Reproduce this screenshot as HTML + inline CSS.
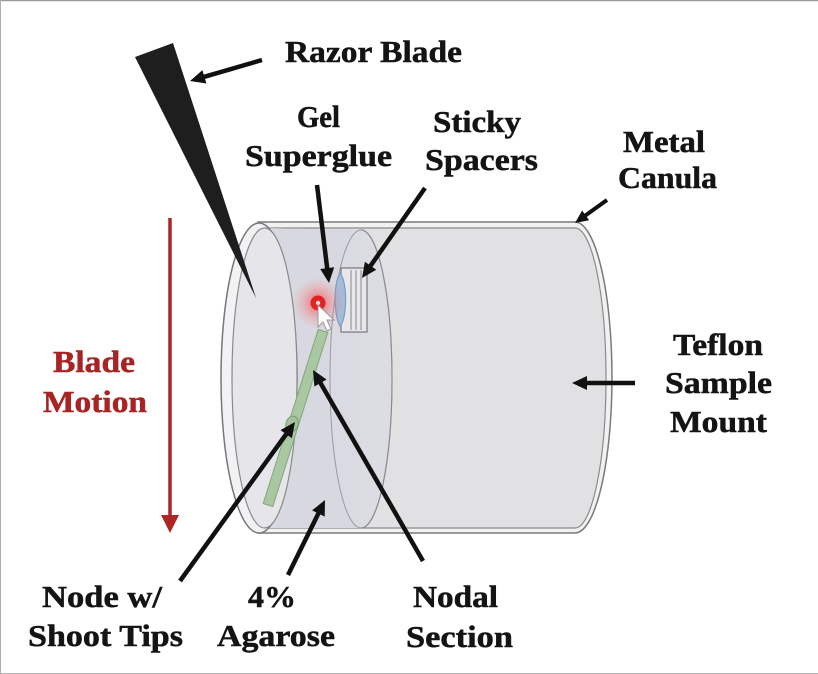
<!DOCTYPE html>
<html><head><meta charset="utf-8"><style>
html,body{margin:0;padding:0;background:#fff;}
svg{display:block;}
text{font-family:"Liberation Serif",serif;font-weight:bold;font-size:31px;fill:#141414;stroke:#141414;stroke-width:0.5px;}
</style></head><body>
<svg width="818" height="674" viewBox="0 0 818 674" xmlns="http://www.w3.org/2000/svg">
<defs>
<radialGradient id="glow" cx="50%" cy="50%" r="50%">
<stop offset="0" stop-color="#ff3030" stop-opacity="0.7"/>
<stop offset="0.5" stop-color="#ff5050" stop-opacity="0.3"/>
<stop offset="1" stop-color="#ff8080" stop-opacity="0"/>
</radialGradient>
</defs>
<rect width="818" height="674" fill="#fff"/>
<line x1="0" y1="0.5" x2="818" y2="0.5" stroke="#9a9a9a" stroke-width="1.5"/>
<line x1="0.5" y1="0" x2="0.5" y2="674" stroke="#b0b0b0" stroke-width="1"/>
<line x1="0" y1="673.5" x2="818" y2="673.5" stroke="#b0b0b0" stroke-width="1"/>

<!-- cylinder body -->
<path d="M258,222 L575,222 A37,155.5 0 0 1 575,533 L258,533 Z" fill="#f1f1f2" stroke="#7a7a7a" stroke-width="1.5"/>
<path d="M258,228 L575,228 A31,150 0 0 1 575,528 L258,528 Z" fill="#e1e1e3" stroke="#8a8a8a" stroke-width="1.2"/>
<!-- darker region between face and section -->
<path d="M262,228 L361,230 A31,149 0 0 0 361,528 L262,528 Z" fill="#d8d8e0"/>
<ellipse cx="361" cy="379" rx="31" ry="149" fill="#dadae2" stroke="#9a9aa2" stroke-width="1"/>
<path d="M361,230 A31,149 0 0 1 361,528" fill="#dcdce3" stroke="#8a8a90" stroke-width="1.2"/>

<!-- front face -->
<ellipse cx="259" cy="378" rx="38" ry="155" fill="#f2f2f4" stroke="#777" stroke-width="1.5"/>
<ellipse cx="264.5" cy="378" rx="32.5" ry="150" fill="#e5e5ea" stroke="#8a8a8a" stroke-width="1.2"/>

<!-- green stem -->
<polygon points="327.8,332.5 318.2,329.5 263.2,503.5 272.8,506.5" fill="#a9c8a2" stroke="#84a57e" stroke-width="1"/>
<ellipse cx="292" cy="424" rx="6" ry="8" transform="rotate(18 292 424)" fill="#a3c29c" stroke="#7c9c76" stroke-width="1"/>

<!-- spacers -->
<rect x="341" y="268" width="26" height="64" fill="#e8e8ec" stroke="#777" stroke-width="1.2"/>
<line x1="351" y1="270" x2="351" y2="330" stroke="#888" stroke-width="1"/>
<line x1="356" y1="270" x2="356" y2="330" stroke="#888" stroke-width="1"/>
<line x1="361" y1="270" x2="361" y2="330" stroke="#888" stroke-width="1"/>
<path d="M340,273 C333,285 334,315 340,326 C347,320 348,282 340,273 Z" fill="#a4bcd8" stroke="#7e9cc2" stroke-width="1.2"/>

<!-- red dot and cursor -->
<circle cx="318" cy="303" r="26" fill="url(#glow)"/>
<circle cx="318" cy="303" r="7.5" fill="#e02222"/>
<circle cx="318" cy="303" r="2.2" fill="#f6dede"/>
<polygon points="318,305 318,327 323,322 327,331 331,329 327,320 334,320" fill="#fff" stroke="#999" stroke-width="1"/>

<!-- razor blade -->
<polygon points="135,57 173,43 256,298" fill="#1e1e1e"/>

<!-- blade motion arrow -->
<line x1="170" y1="218" x2="170" y2="518" stroke="#ae2525" stroke-width="3.5"/>
<polygon points="161,515 179,515 170,533" fill="#ae2525"/>

<!-- black arrows -->
<g stroke="#111" stroke-width="4.5" fill="none" stroke-linecap="butt">
<line x1="262" y1="60" x2="203" y2="77.2"/>
<line x1="317" y1="185" x2="327.4" y2="270"/>
<line x1="425" y1="188" x2="369.5" y2="267.3"/>
<line x1="607" y1="200" x2="584" y2="216.5" stroke-width="4"/>
<line x1="635" y1="383" x2="585" y2="383"/>
<line x1="180" y1="581" x2="287.4" y2="432.5"/>
<line x1="288" y1="575" x2="319" y2="512.3"/>
<line x1="423" y1="561" x2="319.5" y2="381.3"/>
</g>
<g fill="#111">
<polygon points="190,81 202.4,70.1 206.4,83.5"/>
<polygon points="329,283 320.2,269 334.2,267.3"/>
<polygon points="362,278 364.9,261.7 376.3,269.7"/>
<polygon points="575,223 582.1,210.5 589.1,220.3"/>
<polygon points="572,383 587,376 587,390"/>
<polygon points="295,422 291.9,438.3 280.5,430.1"/>
<polygon points="325,500 324.7,516.6 312.1,510.4"/>
<polygon points="313,370 326.6,379.5 314.4,386.5"/>
</g>

<!-- labels -->
<text x="285" y="62" textLength="177" lengthAdjust="spacingAndGlyphs">Razor Blade</text>
<text x="297" y="127" textLength="43" lengthAdjust="spacingAndGlyphs">Gel</text>
<text x="245" y="166" textLength="147" lengthAdjust="spacingAndGlyphs">Superglue</text>
<text x="433" y="132" textLength="88" lengthAdjust="spacingAndGlyphs">Sticky</text>
<text x="425" y="170" textLength="113" lengthAdjust="spacingAndGlyphs">Spacers</text>
<text x="623" y="152" textLength="82" lengthAdjust="spacingAndGlyphs">Metal</text>
<text x="618" y="188" textLength="99" lengthAdjust="spacingAndGlyphs">Canula</text>
<text x="673" y="355" textLength="90" lengthAdjust="spacingAndGlyphs">Teflon</text>
<text x="665" y="393" textLength="107" lengthAdjust="spacingAndGlyphs">Sample</text>
<text x="670" y="432" textLength="97" lengthAdjust="spacingAndGlyphs">Mount</text>
<text x="53" y="372" textLength="82" lengthAdjust="spacingAndGlyphs" style="fill:#a82424;stroke:#a82424">Blade</text>
<text x="43" y="412" textLength="104" lengthAdjust="spacingAndGlyphs" style="fill:#a82424;stroke:#a82424">Motion</text>
<text x="42" y="607" textLength="120" lengthAdjust="spacingAndGlyphs">Node w/</text>
<text x="28" y="646" textLength="155" lengthAdjust="spacingAndGlyphs">Shoot Tips</text>
<text x="248" y="607" textLength="48" lengthAdjust="spacingAndGlyphs">4%</text>
<text x="217" y="646" textLength="118" lengthAdjust="spacingAndGlyphs">Agarose</text>
<text x="413" y="607" textLength="85" lengthAdjust="spacingAndGlyphs">Nodal</text>
<text x="406" y="647" textLength="107" lengthAdjust="spacingAndGlyphs">Section</text>
</svg>
</body></html>
